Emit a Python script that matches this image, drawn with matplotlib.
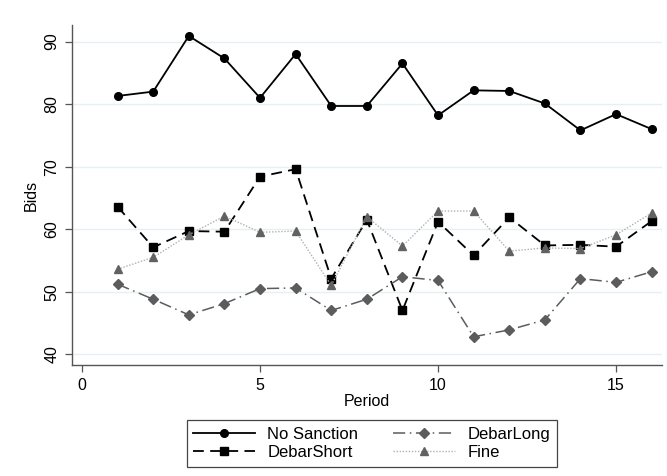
import numpy as np
import matplotlib
matplotlib.use('Agg')
import matplotlib.pyplot as plt

plt.rcParams['font.family'] = ['Liberation Sans', 'DejaVu Sans']

# bids by period for each treatment
period = list(range(1, 17))
no_sanction = [81.3, 82.0, 90.9, 87.3, 81.0, 88.0, 79.7, 79.7,
               86.5, 78.2, 82.2, 82.1, 80.1, 75.8, 78.4, 76.0]
debar_short = [63.6, 57.1, 59.7, 59.6, 68.4, 69.6, 52.1, 61.5,
               47.0, 61.2, 55.8, 61.9, 57.4, 57.5, 57.2, 61.3]
debar_long = [51.2, 48.8, 46.3, 48.1, 50.5, 50.6, 47.0, 48.8,
              52.4, 51.8, 42.8, 43.9, 45.5, 52.1, 51.5, 53.2]
fine = [53.6, 55.5, 59.1, 62.1, 59.5, 59.7, 51.0, 62.0,
        57.3, 62.9, 62.9, 56.5, 57.0, 56.9, 59.1, 62.6]

xticks = [0, 5, 10, 15]
yticks = [40, 50, 60, 70, 80, 90]

fig = plt.figure(figsize=(6.67, 4.76), dpi=100)
ax = fig.add_axes([0.108, 0.233, 0.8845, 0.7145])

ax.plot(period, no_sanction, color='black', lw=1.3, marker='o', ms=5.5,
        label='No Sanction')
ax.plot(period, debar_short, color='black', lw=1.3, ls=(0, (6, 3.5)),
        marker='s', ms=5.5, label='DebarShort')
ax.plot(period, debar_long, color='#5c5c5c', lw=1.1, ls=(0, (8, 3, 1, 3)),
        marker='D', ms=5, label='DebarLong')
ax.plot(period, fine, color='#b0b0b0', lw=1.0, ls=(0, (1, 1.2)),
        marker='^', ms=6, mfc='#616161', mec='#616161', label='Fine')

ax.set_xlim(-0.28, 16.29)
ax.set_ylim(38.27, 92.65)
ax.set_xticks(xticks)
ax.set_yticks(yticks)
ax.yaxis.grid(True, color='#e6eff1', lw=1.0)
ax.set_axisbelow(True)

for s in ['top', 'right']:
    ax.spines[s].set_visible(False)
for s in ['left', 'bottom']:
    ax.spines[s].set_color('#555555')
    ax.spines[s].set_linewidth(1.0)

ax.tick_params(axis='both', direction='out', length=5, width=0.9,
               color='#555555', labelsize=11.5, pad=4)
for lab in ax.get_yticklabels():
    lab.set_rotation(90)
    lab.set_va('center')

ax.set_xlabel('Period', fontsize=11.5, labelpad=1)
ax.set_ylabel('Bids', fontsize=11.5, labelpad=4)

leg = fig.legend(loc='lower center', bbox_to_anchor=(0.5575, 0.002), ncol=2,
                 fontsize=12, handlelength=3.7, numpoints=1, fancybox=False,
                 edgecolor='#444444', framealpha=1, borderpad=0.4,
                 labelspacing=0.2, columnspacing=2.1, handletextpad=0.75)
leg.get_frame().set_linewidth(0.9)

fig.savefig('out.png', dpi=100)
